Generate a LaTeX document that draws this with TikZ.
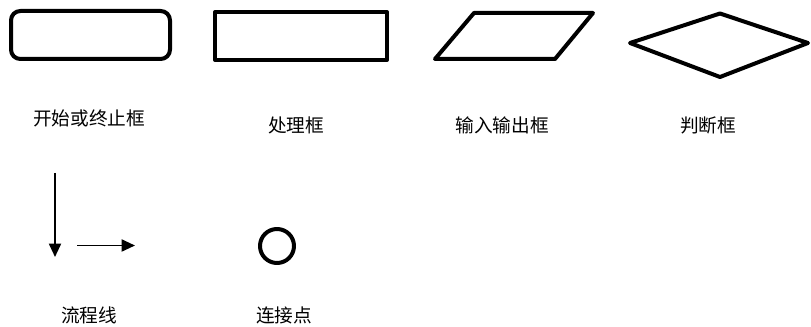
\documentclass[tikz,border=0pt]{standalone}
\usepackage{fontspec}
\setmainfont{Noto Sans CJK SC}
\usetikzlibrary{arrows.meta}
\tikzset{
  shapeline/.style={line width=3pt, line join=round},
  flowline/.style={line width=1.4pt, -{Triangle[length=10pt, width=9pt]}},
  lbl/.style={font=\fontsize{14}{16}\selectfont, inner sep=0pt},
}
\begin{document}
\begin{tikzpicture}[x=0.75pt, y=-0.75pt]
\useasboundingbox (0,0) rectangle (811,327);
% start/end box
\node[shapeline, draw, rounded corners=7pt, minimum width=159*0.75pt, minimum height=48*0.75pt, inner sep=0pt] (term) at (90.5,35) {};
% process box
\node[shapeline, draw, minimum width=172*0.75pt, minimum height=48*0.75pt, inner sep=0pt] (proc) at (301,36) {};
% io parallelogram
\coordinate (io1) at (474,13);
\coordinate (io2) at (593,13);
\coordinate (io3) at (555,59);
\coordinate (io4) at (435,59);
\draw[shapeline] (io1) -- (io2) -- (io3) -- (io4) -- cycle;
% decision diamond
\coordinate (d1) at (630,43);
\coordinate (d2) at (720,13.5);
\coordinate (d3) at (808,43);
\coordinate (d4) at (720,77);
\draw[shapeline] (d1) -- (d2) -- (d3) -- (d4) -- cycle;
% labels
\node[lbl] (l1) at (89,118) {开始或终止框};
\node[lbl] (l2) at (296,125) {处理框};
\node[lbl] (l3) at (502,125) {输入输出框};
\node[lbl] (l4) at (708,125) {判断框};
% flow lines
\coordinate (fa) at (55,173);
\coordinate (fb) at (55,257);
\coordinate (fc) at (77,245.5);
\coordinate (fd) at (135,245.5);
\draw[flowline] (fa) -- (fb);
\draw[flowline] (fc) -- (fd);
% connector
\node[shapeline, draw, circle, minimum size=34*0.75pt, inner sep=0pt] (conn) at (277,246) {};
\node[lbl] (l5) at (89,315) {流程线};
\node[lbl] (l6) at (284,315) {连接点};
\end{tikzpicture}
\end{document}
